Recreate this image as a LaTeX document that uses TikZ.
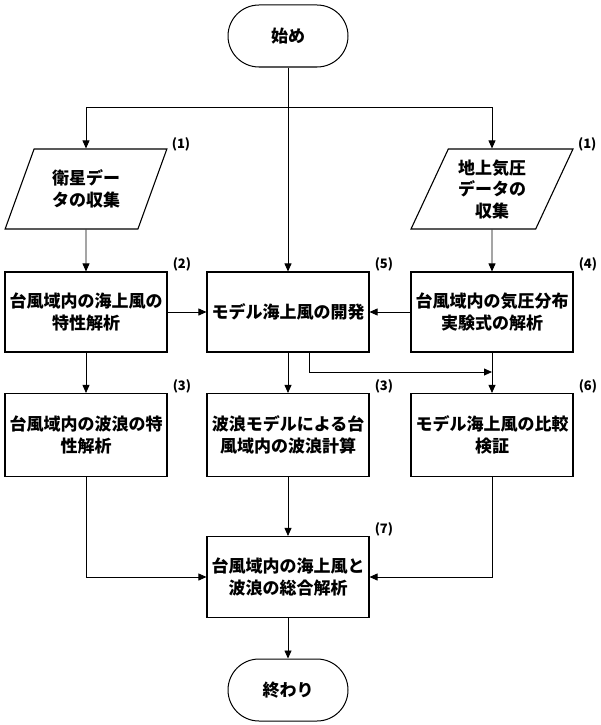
\documentclass[tikz,border=0pt]{standalone}
\usepackage{fontspec}
\newfontfamily\jpfont{Noto Sans CJK JP}
\usetikzlibrary{arrows.meta, shapes.geometric, shapes.misc}

\begin{document}
\begin{tikzpicture}[x=1pt,y=-1pt,
  txt/.style={align=center,inner sep=1pt,font=\jpfont\bfseries\fontsize{17pt}{21.5pt}\selectfont},
  box/.style={txt,draw,line width=1.1pt,minimum width=162pt,minimum height=80pt},
  data/.style={box,trapezium,trapezium left angle=64,trapezium right angle=116,trapezium stretches=true},
  term/.style={txt,draw,line width=1pt,rounded rectangle,minimum width=122pt,minimum height=62pt},
  num/.style={anchor=west,inner sep=0pt,font=\jpfont\bfseries\fontsize{13pt}{15pt}\selectfont},
  go/.style={line width=0.8pt,-{Triangle[length=8pt,width=7pt]}}]
\useasboundingbox (0,0) rectangle (600,725);
\node at (288,36) [term](start){始め};
\node at (86,189) [data](sat){衛星デー\\タの収集};
\node at (492,189) [data](pres){地上気圧\\データの\\収集};
\node at (86,312) [box](windA){台風域内の海上風の\\特性解析};
\node at (288,312) [box](model){モデル海上風の開発};
\node at (492,312) [box](pressA){台風域内の気圧分布\\実験式の解析};
\node at (86,435) [box,minimum height=83pt](waveA){台風域内の波浪の特\\性解析};
\node at (288,435) [box,minimum height=83pt](waveC){波浪モデルによる台\\風域内の波浪計算};
\node at (492,435) [box,minimum height=83pt](check){モデル海上風の比較\\検証};
\node at (288,577) [box,minimum height=81pt](total){台風域内の海上風と\\波浪の総合解析};
\node at (288,690) [term](finish){終わり};
% step numbers
\node at (sat.top right corner) [num,xshift=4pt,yshift=4pt](nsat){(1)};
\node at (pres.top right corner) [num,xshift=4pt,yshift=4pt](npres){(1)};
\node at (windA.north east) [num,xshift=5pt,yshift=7pt](nwindA){(2)};
\node at (model.north east) [num,xshift=5pt,yshift=7pt](nmodel){(5)};
\node at (pressA.north east) [num,xshift=5pt,yshift=7pt](npressA){(4)};
\node at (waveA.north east) [num,xshift=5pt,yshift=7pt](nwaveA){(3)};
\node at (waveC.north east) [num,xshift=5pt,yshift=7pt](nwaveC){(3)};
\node at (check.north east) [num,xshift=5pt,yshift=7pt](ncheck){(6)};
\node at (total.north east) [num,xshift=5pt,yshift=7pt](ntotal){(7)};
\coordinate (split) at (288,107);
\coordinate (tap) at (492,372);
\draw[line width=0.8pt] (start) -- (split);
\draw[go] (split) -| (sat);
\draw[go] (split) -| (pres);
\draw[go] (split) -- (model);
\draw[go] (sat) -- (windA);
\draw[go] (pres) -- (pressA);
\draw[go] (windA) -- (model);
\draw[go] (pressA) -- (model);
\draw[go] (windA) -- (waveA);
\draw[go] (model) -- (waveC);
\draw[go] ([xshift=21pt]model.south) |- (tap);
\draw[go] (pressA) -- (check);
\draw[go] (waveA) |- (total);
\draw[go] (waveC) -- (total);
\draw[go] (check) |- (total);
\draw[go] (total) -- (finish);
\end{tikzpicture}
\end{document}
